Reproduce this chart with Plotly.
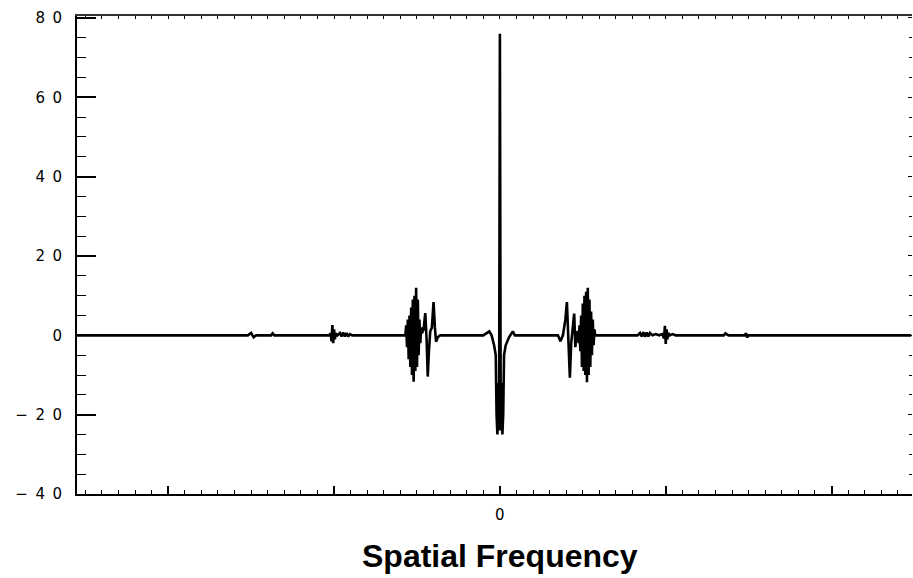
import plotly.graph_objects as go

# Spatial frequency (arbitrary units, major tick spacing = 100) and amplitude values
freq = [
    -255, -200, -152, -150, -148.5, -147, -138, -137, -136, -110,
    -103, -102, -101.5, -101, -100.5, -100, -99.5, -99, -98, -96.5,
    -95.5, -94.5, -93.5, -92.5, -91.5, -90.5, -89, -85, -60, -57.5,
    -57, -56.5, -56, -55.5, -55, -54.5, -54, -53.5, -53, -52.5,
    -52, -51.5, -51, -50.5, -50, -49.5, -49, -48.5, -48, -47.5,
    -47, -46, -45, -44.2, -43.5, -42.8, -42, -41, -40, -39.2,
    -38.5, -37.5, -36, -30, -20, -10, -6.4, -5, -3.5, -2.5,
    -2, -1.5, -1, -0.5, 0, 0.5, 1, 1.5, 2, 2.5,
    3.5, 5.5, 7.8, 9, 20, 30, 35, 36.5, 38, 39.5,
    40.4, 41.2, 42.2, 43, 44, 44.8, 45.5, 46.3, 47, 47.5,
    48, 48.5, 49, 49.5, 50, 50.5, 51, 51.5, 52, 52.5,
    53, 53.5, 54, 54.5, 55, 55.5, 56, 56.5, 57, 57.5,
    60, 83, 84.5, 85.5, 86.5, 87.5, 88.5, 89.5, 90.5, 92,
    94, 96, 98, 99, 99.5, 100, 100.5, 101, 101.5, 102.5,
    104, 106, 135, 136, 137, 138, 147.5, 148.5, 149, 150,
    200, 248,
]
amplitude = [
    0, 0, 0, 0.6, -0.5, 0, 0, 0.5, 0, 0,
    0, 0.5, -1.5, 2.6, -2.0, 1.5, -1.0, 0.5, 0, 0.6,
    -0.3, 0.7, -0.3, 0.6, -0.3, 0.3, 0, 0, 0, 0,
    0, 2.5, -3, 4, -6, 5, -8, 7, -10, 9,
    -11.7, 10, -9, 12, -8, 9, -5, 4, -2, 2,
    0.5, 1.5, 5.6, -1, -10.4, -4, 1, 2, 8.4, 2,
    -1.6, -0.5, 0, 0, 0, 0, 1, 0, -2.5, -5,
    -20, -25, -12, -24, 76, -24, -12, -25, -20, -5,
    -2.5, -0.5, 1, 0, 0, 0, 0, -1.5, 0, 4,
    8.4, 0, -10.7, -2, 2, 5.5, -3, 1, 0.5, -2,
    2.5, -4, 5, -8, 8, -9, 10, -10, 11, -11.8,
    12, -10, 9, -8, 6, -5, 4, -2.5, 1.5, 0,
    0, 0, 0.6, -0.3, 0.8, -0.4, 0.7, -0.3, 0.6, 0,
    0.3, 0, 0.3, -0.8, 2.4, -2.2, 1.5, -1.0, 0.6, 0,
    0.3, 0, 0, 0.5, 0.2, 0, 0, 0.5, -0.5, 0,
    0, 0,
]

y_ticks = [80, 60, 40, 20, 0, -20, -40]
y_tick_labels = ["8\u20020", "6\u20020", "4\u20020", "2\u20020", "0",
                 "\u2212\u20022\u20020", "\u2212\u20024\u20020"]
x_ticks = [-200, -100, 0, 100, 200]
x_tick_labels = ["", "", "0", "", ""]
x_title = "Spatial Frequency"

x_range = [-255, 248.5]
y_range = [-40, 80.5]

fig = go.Figure()
fig.add_trace(go.Scatter(
    x=freq, y=amplitude, mode="lines",
    line=dict(color="black", width=2.6),
    hoverinfo="skip", showlegend=False,
))
# invisible trace so the mirrored (top/right) axes are drawn
fig.add_trace(go.Scatter(
    x=[x_range[0]], y=[y_range[0]], xaxis="x2", yaxis="y2",
    mode="markers", marker=dict(opacity=0), showlegend=False, hoverinfo="skip",
))

tick_font = dict(family="DejaVu Sans", size=15, color="black")

fig.update_layout(
    width=913, height=578,
    margin=dict(l=77, r=1, t=16, b=84, autoexpand=False),
    paper_bgcolor="white", plot_bgcolor="white",
    xaxis=dict(
        range=x_range, showgrid=False, zeroline=False, automargin=False,
        showline=True, linecolor="black", linewidth=2,
        ticks="inside", ticklen=8, tickwidth=1.5, tickcolor="black",
        tickvals=x_ticks, ticktext=x_tick_labels, tickfont=tick_font,
        ticklabelstandoff=6,
        minor=dict(dtick=10, tick0=0, ticks="inside", ticklen=4, tickwidth=1.2, tickcolor="black"),
    ),
    yaxis=dict(
        range=y_range, showgrid=False, zeroline=False, automargin=False,
        showline=True, linecolor="black", linewidth=2,
        ticks="inside", ticklen=19, tickwidth=1.5, tickcolor="black",
        tickvals=y_ticks, ticktext=y_tick_labels, tickfont=tick_font,
        ticklabelstandoff=10,
        minor=dict(dtick=5, tick0=0, ticks="inside", ticklen=9, tickwidth=1.2, tickcolor="black"),
    ),
    xaxis2=dict(
        range=x_range, overlaying="x", side="top", anchor="y2", automargin=False,
        showgrid=False, zeroline=False, showticklabels=False,
        showline=True, linecolor="#333333", linewidth=1.5,
        ticks="inside", ticklen=3, tickwidth=1.2, tickcolor="black",
        tickvals=x_ticks,
        minor=dict(dtick=10, tick0=0, ticks="inside", ticklen=3, tickwidth=1, tickcolor="black"),
    ),
    yaxis2=dict(
        range=y_range, overlaying="y", side="right", anchor="x2", automargin=False,
        showgrid=False, zeroline=False, showticklabels=False,
        showline=False,
        ticks="inside", ticklen=4, tickwidth=1.2, tickcolor="black",
        tickvals=y_ticks,
        minor=dict(dtick=5, tick0=0, ticks="inside", ticklen=3, tickwidth=1, tickcolor="black"),
    ),
    annotations=[dict(
        text="<b>" + x_title + "</b>", x=0, xref="x", y=-0.13, yref="paper",
        xanchor="center", yanchor="middle", showarrow=False,
        font=dict(family="Liberation Sans", size=32, color="black"),
    )],
)

fig.write_html(
    "out.html",
    config={"displayModeBar": False},
    post_script="document.body.style.margin='0';document.body.style.overflow='hidden';",
)
